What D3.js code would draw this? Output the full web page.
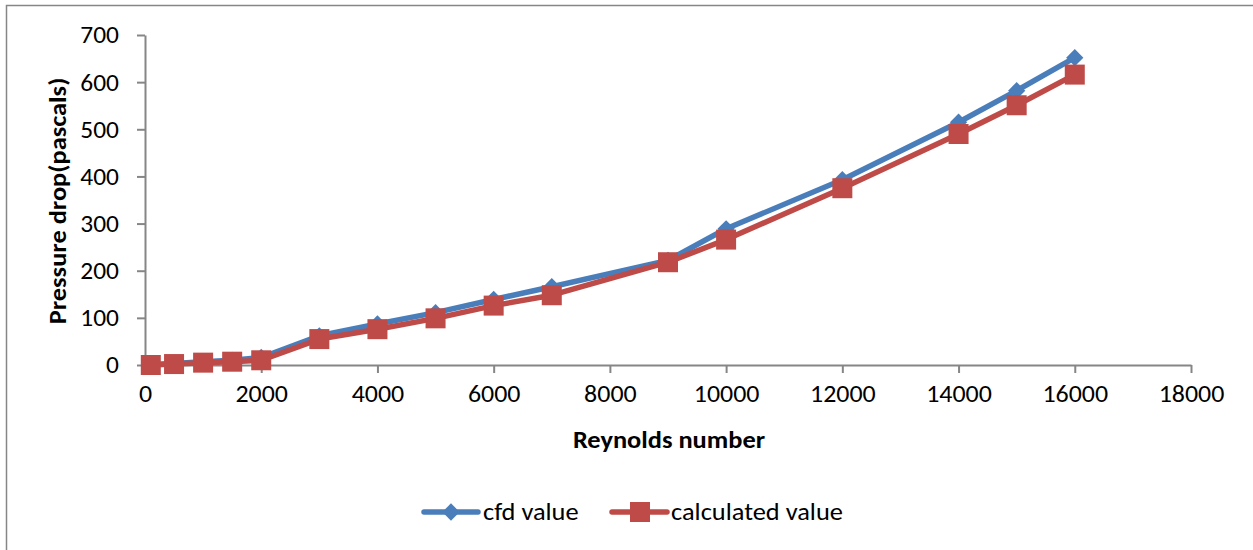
<!DOCTYPE html>
<html>
<head>
<meta charset="utf-8">
<script src="https://cdn.jsdelivr.net/npm/d3@7"></script>
<style>
  html, body { margin: 0; padding: 0; background: #fff; }
  svg { display: block; font-family: Carlito, Calibri, Lato, sans-serif; }
</style>
</head>
<body>
<svg id="chart" width="1253" height="550"></svg>
<script>
const reynolds = [100, 500, 1000, 1500, 2000, 3000, 4000, 5000, 6000, 7000, 9000, 10000, 12000, 14000, 15000, 16000];
const cfdValue = [1, 3, 7, 10, 16, 62, 87, 111, 139, 166, 222, 289, 393, 515, 582, 652];
const calculatedValue = [0, 2, 5, 7, 10, 55, 76, 99, 126, 148, 218, 266, 375, 490, 551, 616];
const xTicks = [0, 2000, 4000, 6000, 8000, 10000, 12000, 14000, 16000, 18000];
const yTicks = [0, 100, 200, 300, 400, 500, 600, 700];
const seriesNames = ["cfd value", "calculated value"];

const svg = d3.select("#chart");
const blue = "#4A7EBB", red = "#BE4B48", axisCol = "#868686";
const FS = "24px";

// widen glyphs slightly (reference text is horizontally stretched)
function stretch(sel, k) {
  sel.each(function () {
    const w = this.getComputedTextLength();
    d3.select(this).attr("textLength", w * k).attr("lengthAdjust", "spacingAndGlyphs");
  });
}

// outer chart border (top and left visible, rest off-canvas)
svg.append("rect").attr("x", 6.5).attr("y", 5.5).attr("width", 1300).attr("height", 600)
  .attr("fill", "none").attr("stroke", axisCol).attr("stroke-width", 1.5);

const x = d3.scaleLinear().domain([0, 18000]).range([145, 1191]);
const y = d3.scaleLinear().domain([0, 700]).range([365, 35]);

const xAxis = svg.append("g").attr("transform", "translate(0,365)")
  .call(d3.axisBottom(x).tickValues(xTicks).tickFormat(d3.format("d")).tickSizeOuter(0).tickSizeInner(8).tickPadding(12));
const yAxis = svg.append("g").attr("transform", "translate(145,0)")
  .call(d3.axisLeft(y).tickValues(yTicks).tickFormat(d3.format("d")).tickSizeOuter(0).tickSizeInner(8).tickPadding(18));
[xAxis, yAxis].forEach(g => {
  g.select(".domain").attr("stroke", axisCol).attr("stroke-width", 2);
  g.selectAll(".tick line").attr("stroke", axisCol).attr("stroke-width", 2);
  g.selectAll(".tick text").attr("fill", "#000").style("font-size", FS).style("font-family", "Carlito, Calibri, Lato, sans-serif");
});
yAxis.selectAll(".tick text").attr("dy", "0.33em");
xAxis.selectAll(".tick text").attr("dy", "0.72em");
stretch(xAxis.selectAll(".tick text"), 1.08);
stretch(yAxis.selectAll(".tick text"), 1.06);

// axis titles
const xt = svg.append("text").attr("x", 669).attr("y", 448).attr("text-anchor", "middle")
  .style("font-size", FS).style("font-weight", "bold").text("Reynolds number");
const yt = svg.append("text").attr("transform", "translate(66,201) rotate(-90)").attr("text-anchor", "middle")
  .style("font-size", FS).style("font-weight", "bold").text("Pressure drop(pascals)");
stretch(xt, 1.1);
stretch(yt, 1.1);

const cfdData = reynolds.map((r, i) => ({ x: r, y: cfdValue[i] }));
const calcData = reynolds.map((r, i) => ({ x: r, y: calculatedValue[i] }));
const line = d3.line().x(d => x(d.x)).y(d => y(d.y));

svg.append("path").datum(cfdData).attr("d", line).attr("fill", "none")
  .attr("stroke", blue).attr("stroke-width", 5.5).attr("stroke-linejoin", "round");
const diamond = d3.symbol().type(d3.symbolDiamond2).size(190);
svg.append("g").selectAll("path").data(cfdData).join("path")
  .attr("transform", d => `translate(${x(d.x)},${y(d.y)})`).attr("d", diamond).attr("fill", blue);

svg.append("path").datum(calcData).attr("d", line).attr("fill", "none")
  .attr("stroke", red).attr("stroke-width", 5.5).attr("stroke-linejoin", "round");
svg.append("g").selectAll("rect").data(calcData).join("rect")
  .attr("x", d => x(d.x) - 10).attr("y", d => y(d.y) - 10).attr("width", 20).attr("height", 20).attr("fill", red);

// legend
const leg = svg.append("g");
leg.append("line").attr("x1", 424).attr("x2", 478).attr("y1", 512).attr("y2", 512)
  .attr("stroke", blue).attr("stroke-width", 5.5).attr("stroke-linecap", "round");
leg.append("path").attr("transform", "translate(451,512)").attr("d", diamond).attr("fill", blue);
const l1 = leg.append("text").attr("x", 483).attr("y", 520).style("font-size", FS).text(seriesNames[0]);
leg.append("line").attr("x1", 612).attr("x2", 667).attr("y1", 512).attr("y2", 512)
  .attr("stroke", red).attr("stroke-width", 5.5).attr("stroke-linecap", "round");
leg.append("rect").attr("x", 630).attr("y", 502).attr("width", 20).attr("height", 20).attr("fill", red);
const l2 = leg.append("text").attr("x", 671).attr("y", 520).style("font-size", FS).text(seriesNames[1]);
stretch(l1, 1.1);
stretch(l2, 1.1);
</script>
</body>
</html>
